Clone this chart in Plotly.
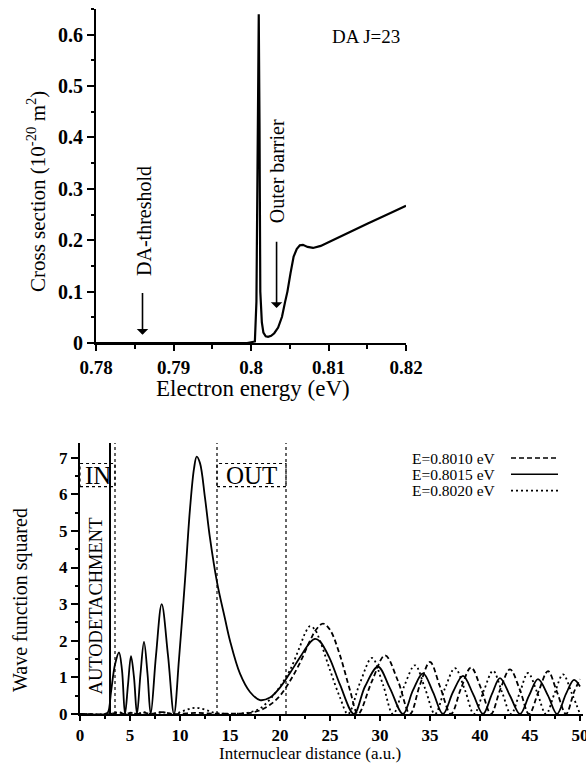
import plotly.graph_objects as go

# ---------------- Top panel data: cross section vs electron energy ----------------
energy_eV = [0.780, 0.7995, 0.8005, 0.8007, 0.8009, 0.8010, 0.8011, 0.8012, 0.8014,
             0.8016, 0.8019, 0.8022, 0.8026, 0.8030, 0.8035, 0.8040, 0.8044, 0.8047,
             0.8051, 0.8055, 0.8059, 0.8063, 0.8067, 0.8073, 0.8080, 0.8090, 0.8100,
             0.8116, 0.8150, 0.8180, 0.8200]
cross_section = [0.0, 0.0, 0.003, 0.08, 0.45, 0.64, 0.42, 0.10, 0.04,
                 0.02, 0.013, 0.012, 0.014, 0.019, 0.030, 0.051, 0.080, 0.100,
                 0.136, 0.168, 0.183, 0.190, 0.191, 0.187, 0.185, 0.189, 0.196,
                 0.207, 0.232, 0.253, 0.267]

# ---------------- Bottom panel data: |psi|^2 vs internuclear distance ----------------
r_solid = [0, 2.5, 2.8, 3.1, 3.5, 3.9, 4.2, 4.5, 4.8, 5.1, 5.4, 5.7, 6.05, 6.4, 6.75, 7.07,
           7.6, 8.17, 8.8, 9.4, 9.9, 10.5, 11.0, 11.4, 11.67, 12.0, 12.5, 13.0, 13.7,
           14.5, 15.0, 16.0, 17.0, 18.0, 19.0, 20.0, 21.0, 22.0, 23.0, 23.5, 24.0, 25.0,
           26.0, 27.4, 28.5, 29.8, 31.0, 32.3, 33.3, 34.3, 35.3, 36.3, 37.3, 38.3, 39.3,
           40.3, 41.2, 42.0, 43.0, 44.0, 44.9, 45.8, 46.8, 47.7, 48.6, 49.4, 50.0]
psi_solid = [0, 0, 0.05, 0.6, 1.35, 1.68, 1.2, 0.0, 0.8, 1.58, 1.0, 0.0, 1.1, 1.97, 1.1, 0.0,
             1.6, 3.0, 1.6, 0.0, 1.5, 3.65, 5.6, 6.7, 7.03, 6.85, 5.9, 4.8, 3.6,
             2.6, 2.0, 1.1, 0.6, 0.38, 0.45, 0.72, 1.12, 1.55, 1.95, 2.05, 1.98, 1.5,
             0.8, 0.0, 0.75, 1.29, 0.7, 0.0, 0.65, 1.11, 0.6, 0.0, 0.6, 1.04, 0.55,
             0.0, 0.55, 0.98, 0.5, 0.0, 0.5, 0.95, 0.5, 0.0, 0.55, 0.93, 0.75]

r_dash = [0, 3.0, 3.9, 4.5, 5.1, 5.7, 6.4, 7.1, 8.2, 9.4, 11.5, 13.5, 16.0, 17.0, 18.0, 19.0,
          20.0, 21.0, 22.0, 23.0, 23.6, 24.3, 25.0, 26.0, 27.0, 27.8, 29.2, 30.5, 31.8,
          33.0, 34.0, 35.0, 36.0, 37.1, 38.1, 39.1, 40.1, 41.1, 42.0, 43.0, 44.0, 44.9,
          45.9, 46.8, 47.7, 48.6, 49.4, 50.0]
psi_dash = [0, 0, 0.04, 0, 0.03, 0, 0.04, 0, 0.05, 0, 0.03, 0.01, 0.01, 0.03, 0.1, 0.25,
            0.5, 0.9, 1.4, 2.0, 2.3, 2.47, 2.3, 1.6, 0.65, 0.0, 0.9, 1.6, 0.9,
            0.0, 0.8, 1.42, 0.75, 0.0, 0.7, 1.27, 0.7, 0.0, 0.65, 1.22, 0.65, 0.0,
            0.65, 1.17, 0.6, 0.0, 0.6, 0.95]

r_dot = [0, 3.0, 3.9, 4.5, 5.1, 5.7, 6.4, 7.1, 8.2, 9.4, 10.5, 11.5, 12.5, 13.5, 16.0,
         17.0, 18.0, 19.0, 20.0, 21.0, 22.0, 22.5, 23.0, 23.5, 24.0, 25.0, 26.0, 26.8,
         28.0, 29.2, 30.3, 31.3, 32.4, 33.5, 34.5, 35.5, 36.5, 37.5, 38.5, 39.4, 40.4,
         41.3, 42.2, 43.1, 44.0, 44.8, 45.7, 46.6, 47.5, 48.3, 49.2, 50.0]
psi_dot = [0, 0, 0.05, 0, 0.04, 0, 0.05, 0, 0.05, 0, 0.1, 0.17, 0.12, 0.03, 0.01,
           0.05, 0.15, 0.4, 0.75, 1.2, 1.85, 2.2, 2.4, 2.3, 2.0, 1.2, 0.45, 0.0,
           0.85, 1.53, 0.8, 0.0, 0.75, 1.33, 0.7, 0.0, 0.7, 1.25, 0.65, 0.0, 0.65,
           1.18, 0.6, 0.0, 0.6, 1.12, 0.6, 0.0, 0.6, 1.08, 0.55, 0.0]

legend_labels = ["E=0.8010 eV", "E=0.8015 eV", "E=0.8020 eV"]
top_xticks = [0.78, 0.79, 0.80, 0.81, 0.82]
top_xticklabels = ["0.78", "0.79", "0.8", "0.81", "0.82"]
top_yticks = [0, 0.1, 0.2, 0.3, 0.4, 0.5, 0.6]
top_yticklabels = ["0", "0.1", "0.2", "0.3", "0.4", "0.5", "0.6"]
bot_xticks = [0, 5, 10, 15, 20, 25, 30, 35, 40, 45, 50]
bot_yticks = [0, 1, 2, 3, 4, 5, 6, 7]
region_lines_solid = [3.0]
region_lines_dotted = [3.5, 13.7, 20.6]

SERIF = "Liberation Serif"

fig = go.Figure()

fig.add_trace(go.Scatter(x=energy_eV, y=cross_section, mode="lines",
                         line=dict(color="black", width=2.2), xaxis="x", yaxis="y",
                         showlegend=False, hoverinfo="skip"))

fig.add_trace(go.Scatter(x=r_dash, y=psi_dash, mode="lines", line_shape="spline",
                         line=dict(color="black", width=1.8, dash="5px,3px"),
                         xaxis="x2", yaxis="y2", showlegend=False, name=legend_labels[0]))
fig.add_trace(go.Scatter(x=r_solid, y=psi_solid, mode="lines", line_shape="spline",
                         line=dict(color="black", width=1.8),
                         xaxis="x2", yaxis="y2", showlegend=False, name=legend_labels[1]))
fig.add_trace(go.Scatter(x=r_dot, y=psi_dot, mode="lines", line_shape="spline",
                         line=dict(color="black", width=1.8, dash="2px,3px"),
                         xaxis="x2", yaxis="y2", showlegend=False, name=legend_labels[2]))

axis_common = dict(showline=True, linecolor="black", linewidth=2, showgrid=False,
                   zeroline=False, ticks="outside", tickcolor="black", tickwidth=2,
                   mirror=False, automargin=False, ticklabeloverflow="allow")

def bold(labels):
    return ["<b>%s</b>" % s for s in labels]

fig.update_layout(
    template=None,
    width=586, height=771, margin=dict(l=0, r=0, t=0, b=0, pad=0), autosize=False,
    paper_bgcolor="white", plot_bgcolor="white",
    font=dict(family=SERIF, color="black"),
    xaxis=dict(domain=[96/586, 406/586], range=[0.78, 0.82], anchor="y",
               tickvals=top_xticks, ticktext=bold(top_xticklabels), ticklen=6,
               minor=dict(dtick=0.005, ticks="outside", ticklen=4, tickcolor="black", tickwidth=2),
               tickfont=dict(family=SERIF, size=19, color="black"), **axis_common),
    yaxis=dict(domain=[1-343/771, 1-9/771], range=[0, 0.65], anchor="x",
               tickvals=top_yticks, ticktext=bold(top_yticklabels), ticklen=7,
               minor=dict(dtick=0.05, ticks="outside", ticklen=3, tickcolor="black", tickwidth=2),
               tickfont=dict(family=SERIF, size=20, color="black"), **axis_common),
    xaxis2=dict(domain=[80/586, 583/586], range=[0, 50.3], anchor="y2",
                tickvals=bot_xticks, ticktext=bold([str(v) for v in bot_xticks]), ticklen=5,
                minor=dict(dtick=2.5, ticks="outside", ticklen=3, tickcolor="black", tickwidth=2),
                tickfont=dict(family=SERIF, size=17, color="black"), **axis_common),
    yaxis2=dict(domain=[1-714/771, 1-443/771], range=[0, 7.4], anchor="x2",
                tickvals=bot_yticks, ticktext=bold([str(v) for v in bot_yticks]), ticklen=7,
                minor=dict(dtick=0.5, ticks="outside", ticklen=3, tickcolor="black", tickwidth=2),
                tickfont=dict(family=SERIF, size=17, color="black"), **axis_common),
)

def A(**kw):
    d = dict(showarrow=False, xanchor="center", yanchor="middle")
    d.update(kw)
    return d

ann = []
ann.append(A(text="Electron energy (eV)", x=253/586, y=1-388/771, xref="paper", yref="paper",
             font=dict(size=23, family=SERIF)))
ann.append(A(text="Cross section (10<sup>-20</sup> m<sup>2</sup>)", x=36/586, y=1-192/771,
             xref="paper", yref="paper", textangle=-90, font=dict(size=21, family=SERIF)))
ann.append(A(text="Internuclear distance (a.u.)", x=310/586, y=1-753/771, xref="paper",
             yref="paper", font=dict(size=17, family=SERIF)))
ann.append(A(text="Wave function squared", x=20/586, y=1-600/771, xref="paper",
             yref="paper", textangle=-90, font=dict(size=20, family=SERIF)))

ann.append(A(text="DA J=23", x=0.8149, y=0.597, xref="x", yref="y", font=dict(size=19, family=SERIF)))
ann.append(A(text="DA-threshold", x=0.7861, y=0.238, xref="x", yref="y", textangle=-90,
             font=dict(size=20, family=SERIF)))
ann.append(A(text="Outer barrier", x=0.8034, y=0.335, xref="x", yref="y", textangle=-90,
             font=dict(size=20, family=SERIF)))
ann.append(dict(text="", x=0.786, y=0.016, ax=0.786, ay=0.1, xref="x", yref="y",
                axref="x", ayref="y", showarrow=True, arrowhead=1, arrowsize=1.2,
                arrowwidth=1.6, arrowcolor="black"))
ann.append(dict(text="", x=0.8033, y=0.068, ax=0.8033, ay=0.2, xref="x", yref="y",
                axref="x", ayref="y", showarrow=True, arrowhead=1, arrowsize=1.2,
                arrowwidth=1.6, arrowcolor="black"))

ann.append(A(text="IN", x=1.75, y=6.52, xref="x2", yref="y2", font=dict(size=25, family=SERIF)))
ann.append(A(text="OUT", x=17.15, y=6.52, xref="x2", yref="y2", font=dict(size=25, family=SERIF)))
ann.append(A(text="AUTODETACHMENT", x=1.55, y=2.95, xref="x2", yref="y2", textangle=-90,
             font=dict(size=18.5, family=SERIF)))

dash_styles = ["5px,3px", "solid", "2px,3px"]
shapes = []
for i, (lab, ds) in enumerate(zip(legend_labels, dash_styles)):
    yp = 1 - (458 + 16.3*i)/771
    ann.append(A(text=lab, x=410/586, y=yp, xref="paper", yref="paper", xanchor="left",
                 font=dict(size=15.5, family=SERIF)))
    shapes.append(dict(type="line", xref="paper", yref="paper", x0=511/586, x1=558/586,
                       y0=yp, y1=yp, line=dict(color="black", width=1.6, dash=ds)))

for xv in region_lines_solid:
    shapes.append(dict(type="line", xref="x2", yref="y2", x0=xv, x1=xv, y0=0, y1=7.4,
                       line=dict(color="black", width=2)))
for xv in region_lines_dotted:
    shapes.append(dict(type="line", xref="x2", yref="y2", x0=xv, x1=xv, y0=0, y1=7.4,
                       line=dict(color="black", width=1.2, dash="dot")))
shapes.append(dict(type="rect", xref="x2", yref="y2", x0=0, x1=3.5, y0=6.21, y1=6.84,
                   line=dict(color="black", width=1.2, dash="dot")))
shapes.append(dict(type="rect", xref="x2", yref="y2", x0=13.7, x1=20.6, y0=6.21, y1=6.84,
                   line=dict(color="black", width=1.2, dash="dot")))

fig.update_layout(annotations=ann, shapes=shapes)
fig.write_html("out.html")
